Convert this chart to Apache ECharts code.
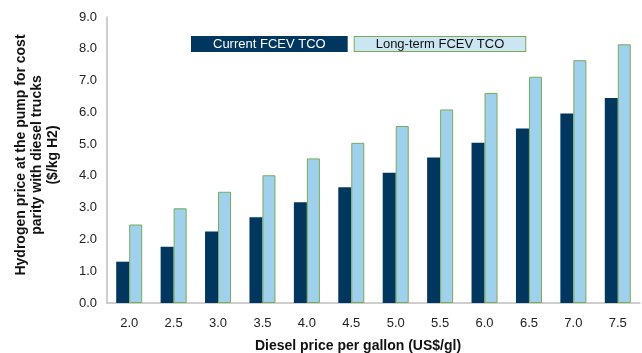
<!DOCTYPE html>
<html>
<head>
<meta charset="utf-8">
<script src="https://cdn.jsdelivr.net/npm/echarts@6/dist/echarts.min.js"></script>
<style>
  html, body { margin: 0; padding: 0; background: #fff; }
  #chart { width: 642px; height: 353px; }
</style>
</head>
<body>
<div id="chart"></div>
<script>
// diesel price per gallon (US$/gl)
const dieselPrices = ['2.0', '2.5', '3.0', '3.5', '4.0', '4.5', '5.0', '5.5', '6.0', '6.5', '7.0', '7.5'];
// hydrogen price for cost parity ($/kg H2)
const currentTco = [1.30, 1.77, 2.25, 2.70, 3.17, 3.64, 4.10, 4.58, 5.04, 5.49, 5.96, 6.45];
const longTermTco = [2.47, 2.98, 3.50, 4.02, 4.55, 5.04, 5.57, 6.09, 6.61, 7.12, 7.64, 8.14];

const font = '"Liberation Sans", Arial, sans-serif';

const chart = echarts.init(document.getElementById('chart'));

chart.setOption({
  animation: false,
  grid: { left: 107, right: 2, top: 17, bottom: 50 },
  legend: {
    left: 186,
    top: 36,
    padding: 0,
    itemWidth: 0,
    itemHeight: 0,
    itemGap: 1,
    data: [
      {
        name: 'Current FCEV TCO',
        textStyle: {
          color: '#fff', backgroundColor: '#01365f',
          padding: [1, 22, 1, 22], lineHeight: 14
        }
      },
      {
        name: 'Long-term FCEV TCO',
        textStyle: {
          color: '#111', backgroundColor: '#cbe6f2',
          borderColor: '#79ab57', borderWidth: 1,
          padding: [0, 21, 0, 21], lineHeight: 14
        }
      }
    ],
    textStyle: { fontFamily: font, fontSize: 13 }
  },
  xAxis: {
    type: 'category',
    data: dieselPrices,
    axisLine: { lineStyle: { color: '#bfbfbf', width: 1.5 } },
    axisTick: { show: false },
    axisLabel: { fontFamily: font, fontSize: 13, color: '#222', margin: 14 }
  },
  yAxis: {
    type: 'value',
    min: 0,
    max: 9,
    interval: 1,
    splitLine: { show: false },
    axisLine: { show: true, lineStyle: { color: '#bfbfbf', width: 1.5 } },
    axisTick: { show: false },
    axisLabel: {
      fontFamily: font, fontSize: 13, color: '#222', margin: 10,
      formatter: (v) => v.toFixed(1)
    }
  },
  series: [
    {
      name: 'Current FCEV TCO',
      type: 'bar',
      data: currentTco,
      barWidth: 13,
      barGap: '0%',
      itemStyle: { color: '#01365f' }
    },
    {
      name: 'Long-term FCEV TCO',
      type: 'bar',
      data: longTermTco,
      barWidth: 13,
      itemStyle: { color: '#9fd1ec', borderColor: '#79ab57', borderWidth: 1 }
    }
  ],
  graphic: [
    {
      type: 'text',
      x: 37,
      y: 155,
      rotation: Math.PI / 2,
      style: {
        text: 'Hydrogen price at the pump for cost\nparity with diesel trucks\n($/kg H2)',
        font: 'bold 14px ' + font,
        fill: '#111',
        textAlign: 'center',
        textVerticalAlign: 'middle',
        lineHeight: 16
      }
    },
    {
      type: 'text',
      x: 358,
      y: 346,
      style: {
        text: 'Diesel price per gallon (US$/gl)',
        font: 'bold 14px ' + font,
        fill: '#111',
        textAlign: 'center',
        textVerticalAlign: 'middle'
      }
    }
  ]
});
</script>
</body>
</html>
